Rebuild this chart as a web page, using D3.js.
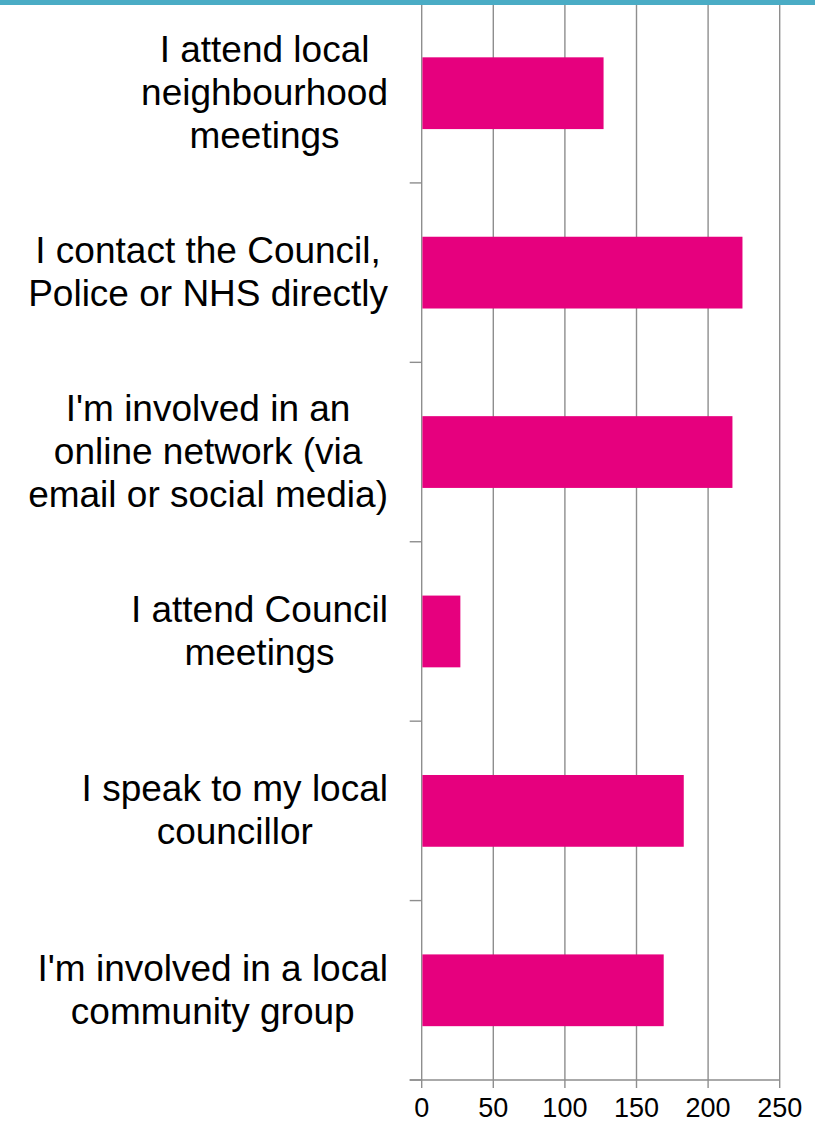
<!DOCTYPE html>
<html>
<head>
<meta charset="utf-8">
<script src="https://cdn.jsdelivr.net/npm/d3@7"></script>
<style>
  body { margin: 0; background: #fff; }
  svg { display: block; font-family: "Liberation Sans", Arial, sans-serif; }
</style>
</head>
<body>
<svg width="815" height="1123"></svg>
<script>
const width = 815;
const height = 1123;

// categories, top to bottom, already wrapped the way the chart shows them
const categories = [
  ["I attend local", "neighbourhood", "meetings"],
  ["I contact the Council,", "Police or NHS directly"],
  ["I'm involved in an", "online network (via", "email or social media)"],
  ["I attend Council", "meetings"],
  ["I speak to my local", "councillor"],
  ["I'm involved in a local", "community group"]
];
const values = [127, 224, 217, 27, 183, 169];
const xTicks = [0, 50, 100, 150, 200, 250];

const plot = { left: 421.7, right: 779.7, top: 3.5, bottom: 1080 };
const gridColor = "#8e8e8e";
const barColor = "#e6007e";

const svg = d3.select("svg");

const x = d3.scaleLinear()
    .domain([0, 250])
    .range([plot.left, plot.right]);

const y = d3.scaleBand()
    .domain(d3.range(categories.length))
    .range([plot.top, plot.bottom])
    .paddingInner(0.6)
    .paddingOuter(0.3);

// vertical gridlines + x axis ticks below
svg.append("g")
  .selectAll("line")
  .data(xTicks)
  .join("line")
    .attr("x1", d => x(d))
    .attr("x2", d => x(d))
    .attr("y1", plot.top)
    .attr("y2", plot.bottom + 8)
    .attr("stroke", gridColor)
    .attr("stroke-width", 1.4);

// bottom axis line
svg.append("line")
    .attr("x1", plot.left - 12)
    .attr("x2", plot.right)
    .attr("y1", plot.bottom)
    .attr("y2", plot.bottom)
    .attr("stroke", gridColor)
    .attr("stroke-width", 1.4);

// category tick marks at band boundaries
svg.append("g")
  .selectAll("line")
  .data(d3.range(categories.length + 1))
  .join("line")
    .attr("x1", plot.left - 12)
    .attr("x2", plot.left)
    .attr("y1", i => plot.top + i * y.step())
    .attr("y2", i => plot.top + i * y.step())
    .attr("stroke", gridColor)
    .attr("stroke-width", 1.4);

// bars
svg.append("g")
  .selectAll("rect")
  .data(values)
  .join("rect")
    .attr("x", x(0) + 0.7)
    .attr("y", (d, i) => y(i))
    .attr("width", d => x(d) - x(0) - 0.7)
    .attr("height", y.bandwidth())
    .attr("fill", barColor);

// x tick labels
svg.append("g")
  .selectAll("text")
  .data(xTicks)
  .join("text")
    .attr("x", d => x(d))
    .attr("y", 1117)
    .attr("text-anchor", "middle")
    .attr("font-size", 27)
    .attr("fill", "#000")
    .text(d => d);

// category labels: lines centred on each other, block right edge near the axis
const lineH = 43;
const labelRight = 388;
categories.forEach((lines, i) => {
  const cy = y(i) + y.bandwidth() / 2;
  const t = svg.append("text")
      .attr("font-size", 37)
      .attr("fill", "#000")
      .attr("text-anchor", "middle");
  const spans = lines.map((s, k) => t.append("tspan")
      .attr("y", cy + 12 - (lines.length - 1) * lineH / 2 + k * lineH)
      .text(s));
  const maxW = d3.max(spans, s => s.node().getComputedTextLength());
  spans.forEach(s => s.attr("x", labelRight - maxW / 2));
});

// blue strip along the top edge
svg.append("rect")
    .attr("x", 0)
    .attr("y", 0)
    .attr("width", width)
    .attr("height", 5)
    .attr("fill", "#4aacc5");
</script>
</body>
</html>
